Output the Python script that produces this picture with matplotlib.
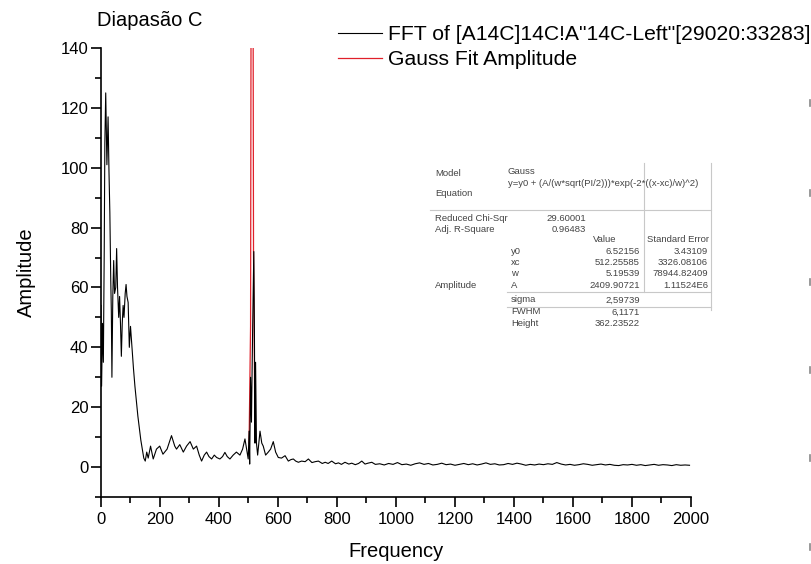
import numpy as np
import matplotlib
matplotlib.use("Agg")
import matplotlib.pyplot as plt
from matplotlib.lines import Line2D

plt.rcParams['font.family'] = ['Liberation Sans', 'DejaVu Sans']

# FFT spectrum (Hz, amplitude)
freq = [0, 2, 5, 8, 11, 13, 16, 20, 24, 27, 30, 33, 35, 37, 40, 43, 46, 50, 53, 56,
        60, 63, 66, 69, 72, 75, 78, 82, 85, 88, 92, 96, 100, 105, 110, 115, 120, 125, 130, 135,
        140, 145, 150, 155, 160, 168, 177, 188, 199, 210, 224, 239, 250, 256, 267, 279, 290, 302, 313, 324,
        333, 341, 350, 358, 366, 375, 384, 392, 403, 412, 420, 428, 437, 448, 459, 471, 480, 488, 495, 499,
        502, 504, 507, 510, 514, 518, 520, 522, 524, 527, 531, 539, 545, 550, 558, 567, 575, 584, 592, 601,
        612, 624, 635, 644, 652, 660, 669, 680, 692, 703, 715, 726, 737, 750, 760, 770, 782, 795, 805, 815,
        827, 840, 850, 862, 873, 884, 895, 905, 918, 930,
        945, 960, 975, 990, 1005, 1020, 1035, 1050, 1065, 1080, 1095, 1110, 1125, 1140, 1155, 1170, 1185, 1200,
        1215, 1230, 1245, 1260, 1275, 1290, 1305, 1320, 1335, 1350, 1365, 1380, 1395, 1410, 1425, 1440, 1455,
        1470, 1485, 1500, 1515, 1530, 1545, 1560, 1575, 1590, 1605, 1620, 1635, 1650, 1665, 1680, 1695, 1710,
        1725, 1740, 1755, 1770, 1785, 1800, 1815, 1830, 1845, 1860, 1875, 1890, 1905, 1920, 1935, 1950, 1965,
        1980, 1995]
amp = [54, 27, 48, 35, 73, 108, 125, 101, 117, 99, 85, 63, 52, 30, 57, 69, 58, 60, 73, 60,
       50, 57, 48, 37, 48, 54, 50, 58, 61, 57, 55, 40, 47, 40, 33, 27, 22, 17, 13, 9,
       6, 3, 2, 5, 3, 7, 2.7, 6, 7, 4.3, 6, 10.5, 7, 6, 7.5, 5, 7, 8.5, 6, 7,
       4, 2, 4, 5, 3.5, 2.7, 4, 3.2, 2.7, 3.5, 4.9, 3.5, 2.7, 4, 5, 4, 6, 9.4, 5, 2.7,
       12, 1, 30, 15, 46, 72, 46, 8, 35, 8, 4, 12, 8, 7, 4, 5, 6, 8.5, 5, 3.2,
       3, 3.8, 2, 2.5, 2.7, 2, 1.6, 2, 1.8, 2.7, 1.5, 1.8, 2, 1.2, 1.6, 1.2, 2, 1.1, 1.4, 0.9,
       1.6, 1.0, 1.3, 0.8, 1.2, 2, 1.0, 1.3, 1.6, 0.9,
       1.1, 0.7, 1.2, 0.9, 1.5, 0.8, 1.0, 0.6, 1.1, 1.4, 0.9, 1.2, 0.7, 0.9, 1.3, 0.8, 1.0, 0.6,
       0.9, 1.2, 0.8, 1.1, 0.7, 1.0, 1.4, 0.9, 1.1, 0.7, 0.8, 1.2, 0.9, 1.3, 1.0, 0.6, 0.9,
       0.7, 1.0, 0.8, 1.1, 0.9, 1.5, 1.0, 0.7, 0.9, 0.6, 0.8, 1.1, 0.9, 0.6, 0.8, 1.0, 0.7,
       0.9, 0.6, 0.5, 0.8, 0.7, 0.9, 0.6, 0.8, 0.5, 0.7, 0.9, 0.6, 0.8, 0.7, 0.5, 0.8, 0.6,
       0.7, 0.6]

# Gauss fit line around the peak
fit_freq = [502, 507, 512, 517, 522]
fit_amp = [8, 47, 367, 72, 9]

xticks = [0, 200, 400, 600, 800, 1000, 1200, 1400, 1600, 1800, 2000]
yticks = [0, 20, 40, 60, 80, 100, 120, 140]

fig = plt.figure(figsize=(8.12, 5.64), dpi=100)
ax = fig.add_axes([101/812, 1 - 497/564, 590/812, 449/564])

ax.plot(freq, amp, color='black', lw=0.8, zorder=3, label='FFT of [A14C]14C!A"14C-Left"[29020:33283]')
ax.plot(fit_freq, fit_amp, color='#e0202a', lw=0.9, zorder=2, label='Gauss Fit Amplitude')

ax.set_xlim(0, 2000)
ax.set_ylim(-10, 140)
ax.set_xticks(xticks)
ax.set_yticks(yticks)
ax.set_xticks(np.arange(100, 2000, 200), minor=True)
ax.set_yticks(np.arange(-10, 140, 20), minor=True)
ax.tick_params(which='major', direction='out', length=7, width=1.2, labelsize=12)
ax.tick_params(axis='y', which='major', pad=2)
ax.tick_params(which='minor', direction='out', length=4, width=1.2)
for s in ['top', 'right']:
    ax.spines[s].set_visible(False)
for s in ['left', 'bottom']:
    ax.spines[s].set_linewidth(1.2)

ax.set_xlabel('Frequency', fontsize=14.5, labelpad=11)
ax.set_ylabel('Amplitude', fontsize=14.5, labelpad=18)

fig.text(97/812, 1 - 21/564, 'Diapasão C', fontsize=14.5, ha='left', va='center')

fig.legend(loc='upper left', bbox_to_anchor=(338/812, 1 - 25/564), frameon=False,
           fontsize=15.2, handlelength=2.1, handletextpad=0.25, labelspacing=0.3,
           borderpad=0, borderaxespad=0)

# fit results table
tc = '#444444'
fs = 6.8
def t(x, y, s, ha='left'):
    fig.text(x/812, 1 - y/564, s, fontsize=fs, color=tc, ha=ha, va='center')

t(435, 173, 'Model'); t(508, 172, 'Gauss')
t(508, 183, 'y=y0 + (A/(w*sqrt(PI/2)))*exp(-2*((x-xc)/w)^2)')
t(435, 193, 'Equation')
t(435, 218, 'Reduced Chi-Sqr'); t(586, 218, '29.60001', 'right')
t(435, 229, 'Adj. R-Square'); t(586, 229, '0.96483', 'right')
t(605, 240, 'Value', 'center'); t(678, 240, 'Standard Error', 'center')
rows = [('y0', '6.52156', '3.43109', 251),
        ('xc', '512.25585', '3326.08106', 262),
        ('w', '5.19539', '78944.82409', 273)]
for n, v, e, y in rows:
    t(511, y, n); t(640, y, v, 'right'); t(708, y, e, 'right')
t(435, 285, 'Amplitude'); t(511, 285, 'A'); t(640, 285, '2409.90721', 'right'); t(708, 285, '1.11524E6', 'right')
t(511, 300, 'sigma'); t(640, 300, '2,59739', 'right')
t(511, 312, 'FWHM'); t(640, 312, '6,1171', 'right')
t(511, 323, 'Height'); t(640, 323, '362.23522', 'right')

lc = '#c8c8c8'
def ln(x0, y0, x1, y1):
    fig.add_artist(Line2D([x0/812, x1/812], [1 - y0/564, 1 - y1/564], color=lc, lw=0.8))

ln(430, 210, 711, 210)
ln(644, 163, 644, 292)
ln(711, 163, 711, 310)
ln(507, 292, 711, 292)
ln(507, 307, 711, 307)

# small marks at right edge
for y in [103, 193, 282, 370, 458, 547]:
    fig.add_artist(Line2D([810/812, 810/812], [1 - (y - 3)/564, 1 - (y + 3)/564], color='#888888', lw=1.2))

fig.savefig('out.png', dpi=100)
